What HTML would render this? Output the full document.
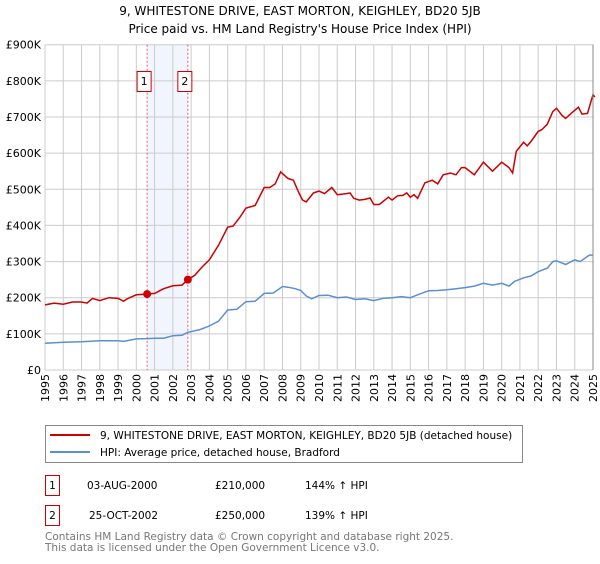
<!DOCTYPE html>
<html><head><meta charset="utf-8"><style>
body{margin:0;background:#fff;font-family:"DejaVu Sans","Liberation Sans",sans-serif;}
svg text{font-family:"DejaVu Sans","Liberation Sans",sans-serif;}
</style></head><body>
<svg id="c" width="600" height="560" xmlns="http://www.w3.org/2000/svg">
<text x="300" y="15" text-anchor="middle" font-size="12">9, WHITESTONE DRIVE, EAST MORTON, KEIGHLEY, BD20 5JB</text>
<text x="300" y="33" text-anchor="middle" font-size="12">Price paid vs. HM Land Registry's House Price Index (HPI)</text>
<g id="grid"></g><g id="marks"></g><g id="axes"></g>
<g>
<rect x="45.5" y="425.5" width="477" height="37" fill="#fff" stroke="#888"/>
<line x1="50" y1="435" x2="90" y2="435" stroke="#cc0000" stroke-width="2"/>
<text x="100" y="439" font-size="10.5">9, WHITESTONE DRIVE, EAST MORTON, KEIGHLEY, BD20 5JB (detached house)</text>
<line x1="50" y1="452" x2="90" y2="452" stroke="#5b8fd4" stroke-width="2"/>
<text x="100" y="456" font-size="10.5">HPI: Average price, detached house, Bradford</text>
</g>
<g font-size="10.5">
<rect x="45.5" y="475.5" width="14" height="20" fill="none" stroke="#cc0000"/><text x="52.5" y="489" text-anchor="middle">1</text>
<text x="87" y="489">03-AUG-2000</text><text x="215" y="489">£210,000</text><text x="305" y="489">144% ↑ HPI</text>
<rect x="45.5" y="505.5" width="14" height="20" fill="none" stroke="#cc0000"/><text x="52.5" y="519" text-anchor="middle">2</text>
<text x="89" y="519">25-OCT-2002</text><text x="215" y="519">£250,000</text><text x="305" y="519">139% ↑ HPI</text>
</g>
<text x="45" y="540" font-size="10.5" fill="#777">Contains HM Land Registry data © Crown copyright and database right 2025.</text>
<text x="45" y="551" font-size="10.5" fill="#777">This data is licensed under the Open Government Licence v3.0.</text>
</svg>
<script>
const redT=[1995,1995.5,1996,1996.5,1997,1997.3,1997.6,1998,1998.5,1999,1999.3,1999.5,2000,2000.59,2001,2001.5,2002,2002.5,2002.82,2003.2,2003.6,2004,2004.5,2005,2005.3,2005.7,2006,2006.5,2007,2007.3,2007.6,2007.9,2008.3,2008.6,2008.9,2009.1,2009.3,2009.7,2010,2010.3,2010.7,2011,2011.5,2011.7,2011.9,2012.2,2012.5,2012.8,2013,2013.3,2013.8,2014,2014.3,2014.6,2014.8,2015,2015.2,2015.4,2015.8,2016.2,2016.5,2016.8,2017.2,2017.5,2017.8,2018,2018.5,2019,2019.5,2020,2020.4,2020.6,2020.8,2021.2,2021.4,2021.6,2022,2022.2,2022.5,2022.8,2023,2023.3,2023.5,2023.8,2024.2,2024.4,2024.7,2025,2025.1];
const redV=[180,185,182,188,188,185,198,192,200,198,190,197,208,210,212,225,233,235,250,262,285,305,345,395,398,425,448,455,505,505,515,548,530,525,490,470,465,490,495,488,505,485,488,490,475,470,472,476,458,458,478,470,482,483,490,478,485,475,518,525,515,540,545,540,560,560,540,575,550,575,560,545,605,630,620,632,660,665,680,715,724,705,696,710,727,708,710,762,755];
const hpiT=[1995,1996,1997,1998,1999,1999.3,2000,2000.6,2001,2001.5,2002,2002.5,2002.8,2003.5,2004,2004.5,2005,2005.5,2006,2006.5,2007,2007.5,2008,2008.3,2008.7,2009,2009.3,2009.6,2010,2010.5,2011,2011.5,2012,2012.5,2013,2013.5,2014,2014.5,2015,2015.5,2016,2016.5,2017,2017.5,2018,2018.5,2019,2019.5,2020,2020.4,2020.7,2021.2,2021.6,2022,2022.5,2022.8,2023,2023.5,2024,2024.3,2024.8,2025];
const hpiV=[74,77,78,81,81,79,86,87,88,88,95,96,104,112,122,135,166,168,189,190,212,213,231,229,225,220,205,197,206,207,200,202,195,197,192,198,200,203,200,210,219,220,222,225,228,232,240,235,240,232,245,255,260,272,282,300,302,292,305,300,318,318];
const yTicks=[0,100,200,300,400,500,600,700,800,900];
const yLabels=["£0","£100K","£200K","£300K","£400K","£500K","£600K","£700K","£800K","£900K"];
const xTicks=[];for(let y=1995;y<=2025;y++)xTicks.push(y);
const sales=[{n:"1",t:2000.59,v:210},{n:"2",t:2002.82,v:250}];
const X0=45,X1=593,Y0=370,Y1=44.7;
const xs=t=>X0+(t-1995)/30*(X1-X0), ys=v=>Y0-v/900*(Y0-Y1);
const NS="http://www.w3.org/2000/svg";
function mk(p,tag,a){const e=document.createElementNS(NS,tag);for(const k in a)e.setAttribute(k,a[k]);p.appendChild(e);return e;}
const grid=document.getElementById('grid'),marks=document.getElementById('marks'),axes=document.getElementById('axes');
const sh=mk(grid,'rect',{x:xs(sales[0].t),y:Y1,width:xs(sales[1].t)-xs(sales[0].t),height:Y0-Y1,fill:'#eef3fc',opacity:0.8});

yTicks.forEach((v,i)=>{const l=mk(grid,'line',{x1:X0,x2:X1,y1:ys(v),y2:ys(v),stroke:'#ccc'});

const t=mk(axes,'text',{x:X0-4,y:ys(v)+4,'text-anchor':'end','font-size':11});t.textContent=yLabels[i];
});
xTicks.forEach(y=>{const l=mk(grid,'line',{x1:xs(y),x2:xs(y),y1:Y1,y2:Y0,stroke:'#ccc'});

const t=mk(axes,'text',{x:0,y:0,'text-anchor':'end','font-size':11,transform:`translate(${xs(y)+4},${Y0+4}) rotate(-90)`});t.textContent=y;
});
const ra=mk(axes,'line',{x1:X1,x2:X1,y1:Y1,y2:Y0,stroke:'#888'});

sales.forEach(s=>{const l=mk(marks,'line',{x1:xs(s.t),x2:xs(s.t),y1:Y1,y2:Y0,stroke:'#e06070','stroke-dasharray':'2,2'});
});
function path(T,V,c,n){const d=T.map((t,i)=>(i?'L':'M')+xs(t).toFixed(1)+','+ys(V[i]).toFixed(1)).join('');
const p=mk(marks,'path',{d,fill:'none',stroke:c,'stroke-width':1.5});}
path(hpiT,hpiV,'#5b8fd4','hpi-line');path(redT,redV,'#cc0000','property-price-line');
sales.forEach(s=>{const c=mk(marks,'circle',{cx:xs(s.t),cy:ys(s.v),r:4,fill:'#cc0000'});

const bx=xs(s.t)-3;const r=mk(marks,'rect',{x:bx-7,y:71.5,width:14,height:20,fill:'#fff',stroke:'#cc0000'});

const t=mk(marks,'text',{x:bx,y:85,'text-anchor':'middle','font-size':11});t.textContent=s.n;
});
</script>
</body></html>
